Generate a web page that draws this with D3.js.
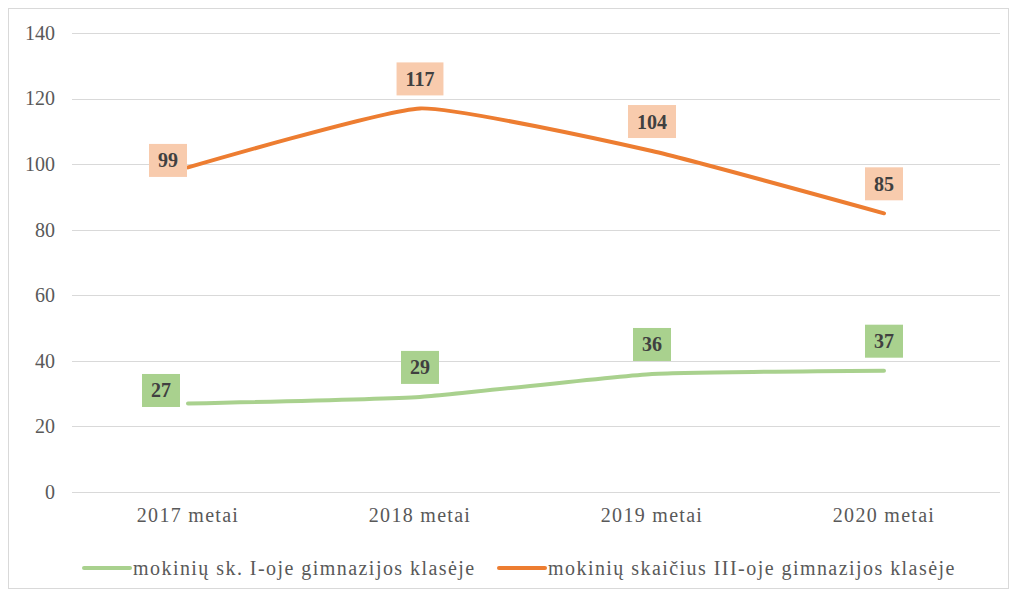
<!DOCTYPE html>
<html>
<head>
<meta charset="utf-8">
<script src="https://cdn.jsdelivr.net/npm/d3@7"></script>
<style>
  body { margin: 0; background: #fff; }
</style>
</head>
<body>
<div id="chart"></div>
<script>
var categories = ["2017 metai", "2018 metai", "2019 metai", "2020 metai"];
var seriesNames = ["mokinių sk. I-oje gimnazijos klasėje", "mokinių skaičius III-oje gimnazijos klasėje"];
var firstGrade = [27, 29, 36, 37];
var thirdGrade = [99, 117, 104, 85];
var yTicks = [0, 20, 40, 60, 80, 100, 120, 140];

var FONT = "'Liberation Serif', 'Times New Roman', 'DejaVu Serif', serif";

var W = 1011, H = 593;
var margin = { top: 33, right: 11, bottom: 101, left: 72 },
  width = W - margin.left - margin.right,
  height = H - margin.top - margin.bottom;

var svg = d3.select("#chart").append("svg")
  .attr("width", W)
  .attr("height", H)
  .style("font-family", FONT);

// chart border
svg.append("rect")
  .attr("x", 8.5).attr("y", 8.5)
  .attr("width", 1000).attr("height", 580)
  .attr("fill", "none")
  .attr("stroke", "#d9d9d9");

var g = svg.append("g")
  .attr("transform", "translate(" + margin.left + "," + margin.top + ")");

var x = d3.scaleBand().domain(categories).range([0, width]);
var y = d3.scaleLinear().domain([0, 140]).range([height, 0]);

// gridlines
g.selectAll(".grid")
  .data(yTicks)
  .enter().append("line")
  .attr("x1", 0).attr("x2", width)
  .attr("y1", function(d) { return Math.round(y(d)) + 0.5; })
  .attr("y2", function(d) { return Math.round(y(d)) + 0.5; })
  .attr("stroke", "#d9d9d9")
  .attr("stroke-width", 1);

// y axis
var yAxis = g.append("g")
  .call(d3.axisLeft(y).tickValues(yTicks).tickSize(0).tickPadding(17));
yAxis.select(".domain").remove();

// x axis
var xAxis = g.append("g")
  .attr("transform", "translate(0," + height + ")")
  .call(d3.axisBottom(x).tickSize(0).tickPadding(16));
xAxis.select(".domain").remove();
xAxis.selectAll(".tick text").attr("letter-spacing", 1.3);

g.selectAll(".tick text")
  .attr("font-family", FONT)
  .attr("font-size", 20)
  .attr("fill", "#595959");

var series = [
  { name: seriesNames[0], values: firstGrade, color: "#a9d18e", box: "#a9d18e", firstOff: [-27, -13], legendX: 82 },
  { name: seriesNames[1], values: thirdGrade, color: "#ed7d31", box: "#f8cbad", firstOff: [-20, -7], legendX: 497 }
];

var line = d3.line()
  .x(function(d, i) { return x(categories[i]) + x.bandwidth() / 2; })
  .y(function(d) { return y(d); })
  .curve(d3.curveCardinal.tension(0.55));

series.forEach(function(s) {
  g.append("path")
    .datum(s.values)
    .attr("fill", "none")
    .attr("stroke", s.color)
    .attr("stroke-width", 4)
    .attr("stroke-linecap", "round")
    .attr("d", line);
});

// data labels
series.forEach(function(s) {
  var lab = g.selectAll(null)
    .data(s.values)
    .enter().append("g")
    .attr("transform", function(d, i) {
      var cx = x(categories[i]) + x.bandwidth() / 2;
      var cy = y(d);
      if (i === 0) return "translate(" + (cx + s.firstOff[0]) + "," + (cy + s.firstOff[1]) + ")";
      return "translate(" + cx + "," + (cy - 29.5) + ")";
    });
  lab.append("rect")
    .attr("fill", s.box);
  lab.append("text")
    .attr("font-family", FONT)
    .attr("font-size", 20)
    .attr("font-weight", "bold")
    .attr("fill", "#404040")
    .attr("text-anchor", "middle")
    .attr("dy", "0.35em")
    .text(function(d) { return d; });
  lab.each(function() {
    var t = d3.select(this).select("text").node().getBBox();
    d3.select(this).select("rect")
      .attr("x", -t.width / 2 - 9)
      .attr("y", -16.5)
      .attr("width", t.width + 18)
      .attr("height", 33);
  });
});

// legend
var legend = svg.selectAll(".legend")
  .data(series)
  .enter().append("g")
  .attr("class", "legend")
  .attr("transform", function(d) { return "translate(" + d.legendX + ",568)"; });

legend.append("line")
  .attr("x1", 2).attr("x2", 48)
  .attr("stroke", function(d) { return d.color; })
  .attr("stroke-width", 4)
  .attr("stroke-linecap", "round");

legend.append("text")
  .attr("x", 51)
  .attr("dy", "0.35em")
  .attr("font-family", FONT)
  .attr("font-size", 20)
  .attr("letter-spacing", 1.45)
  .attr("fill", "#595959")
  .text(function(d) { return d.name; });
</script>
</body>
</html>
